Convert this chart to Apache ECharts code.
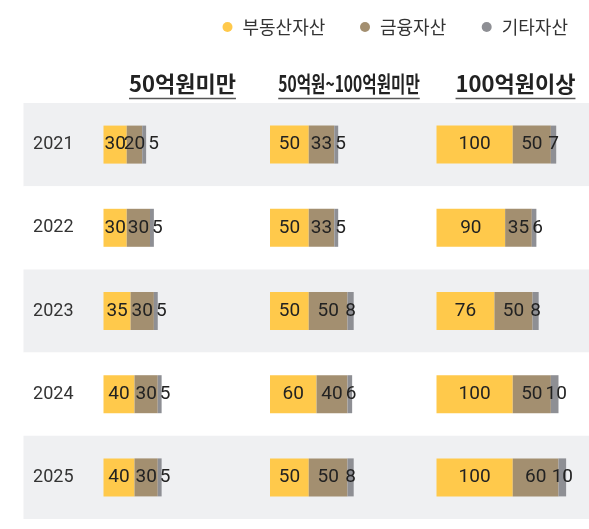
<!DOCTYPE html>
<html>
<head>
<meta charset="utf-8">
<script src="https://cdn.jsdelivr.net/npm/echarts@6/dist/echarts.min.js"></script>
<style>
  html, body { margin: 0; padding: 0; background: #fff; }
  #chart { width: 589px; height: 529px; }
</style>
</head>
<body>
<div id="chart"></div>
<script>
// 데이터
var years = ['2021', '2022', '2023', '2024', '2025'];
var groups = ['50억원미만', '50억원~100억원미만', '100억원이상'];
var assetNames = ['부동산자산', '금융자산', '기타자산'];
// 그룹별 [2021..2025]
var realEstate = [[30, 30, 35, 40, 40], [50, 50, 50, 60, 50], [100, 90, 76, 100, 100]];
var financial  = [[20, 30, 30, 30, 30], [33, 33, 50, 40, 50], [50, 35, 50, 50, 60]];
var others     = [[5, 5, 5, 5, 5], [5, 5, 8, 6, 8], [7, 6, 8, 10, 10]];

var colors = ['#FFC94B', '#A38F70', '#8E8F94'];
var numFont = 'Roboto, sans-serif';
var krFont = '"Noto Sans CJK KR", sans-serif';

var chart = echarts.init(document.getElementById('chart'));

var gridLeft = [103.5, 270, 436.5];
var gridW = 155;
var gridTop = 103;
var gridH = 416;

var grids = [], xAxes = [], yAxes = [], series = [], graphics = [];

// 배경 줄무늬용 grid
grids.push({ left: 23.5, right: 0, top: gridTop, height: gridH });
xAxes.push({ type: 'value', gridIndex: 0, show: false });
yAxes.push({
    type: 'category', gridIndex: 0, data: years, inverse: true,
    axisLine: { show: false }, axisTick: { show: false }, axisLabel: { show: false },
    splitArea: { show: true, areaStyle: { color: ['#EFF0F2', '#FFFFFF'] } }
});

// 그룹 제목 텍스트 폭 측정
var titleFont = 'bold 22px "Noto Sans CJK KR"';
var ctx = document.createElement('canvas').getContext('2d');
ctx.font = titleFont;
var titleScale = [1, 0.71, 1];

groups.forEach(function (g, p) {
    var gi = p + 1;
    grids.push({ left: gridLeft[p], width: gridW, top: gridTop, height: gridH });
    xAxes.push({ type: 'value', gridIndex: gi, min: 0, max: 200, show: false });
    yAxes.push({
        type: 'category', gridIndex: gi, data: years, inverse: true,
        axisLine: { show: false }, axisTick: { show: false },
        axisLabel: {
            show: p === 0, margin: 30,
            fontFamily: numFont, fontSize: 18, color: '#333'
        }
    });

    var lists = [realEstate[p], financial[p], others[p]];
    lists.forEach(function (vals, k) {
        var s = {
            name: assetNames[k],
            type: 'bar',
            stack: 'g' + p,
            xAxisIndex: gi,
            yAxisIndex: gi,
            barWidth: 38,
            data: vals,
            itemStyle: { color: colors[k] },
            label: {
                show: true, position: 'inside',
                fontFamily: numFont, fontSize: 19, color: '#222'
            }
        };
        if (k === 2) {
            // 작은 조각의 라벨이 금융자산 라벨과 겹치면 오른쪽으로 밀기
            s.labelLayout = function (params) {
                var i = params.dataIndex;
                var unit = params.rect.width / others[p][i];
                var digit = params.labelRect.width / String(others[p][i]).length;
                var prevRight = params.rect.x - financial[p][i] * unit / 2 +
                    String(financial[p][i]).length * digit / 2;
                var left = params.labelRect.x;
                if (left < prevRight + 3) {
                    return { dx: prevRight + 3 - left };
                }
                return {};
            };
        }
        series.push(s);
    });

    // 제목 + 밑줄
    var cx = gridLeft[p] + gridW / 2 + 1.5;
    var w = ctx.measureText(g).width * titleScale[p];
    graphics.push({
        type: 'text', x: cx, y: 84, scaleX: titleScale[p],
        style: {
            text: g, fill: '#222', font: titleFont,
            textAlign: 'center', textVerticalAlign: 'middle'
        }
    });
    graphics.push({
        type: 'line',
        shape: { x1: cx - w / 2, y1: 98.5, x2: cx + w / 2, y2: 98.5 },
        style: { stroke: '#555', lineWidth: 1.5 }
    });
});

// 범례: 항목마다 하나씩
var legendLeft = [217.5, 355, 476.7];
var legends = assetNames.map(function (n, k) {
    return {
        data: [n],
        left: legendLeft[k], top: 13,
        icon: 'circle', itemWidth: 20, itemHeight: 10,
        textStyle: { fontFamily: krFont, fontSize: 18, color: '#333' }
    };
});

var option = {
    animation: false,
    legend: legends,
    grid: grids,
    xAxis: xAxes,
    yAxis: yAxes,
    series: series,
    graphic: graphics
};

chart.setOption(option);
</script>
</body>
</html>
